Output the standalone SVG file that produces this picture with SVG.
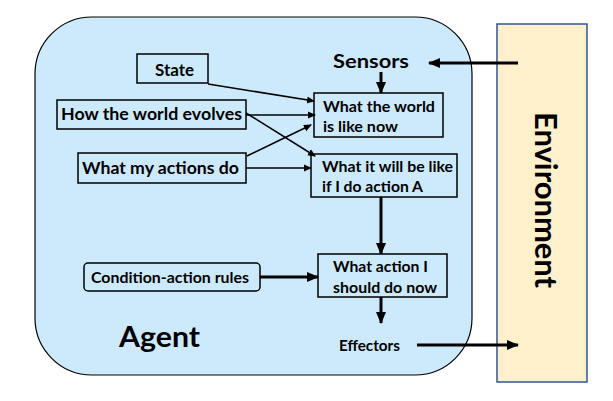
<svg xmlns="http://www.w3.org/2000/svg" width="613" height="401" viewBox="0 0 613 401">
<defs>
<style>
text{font-family:Lato,"Liberation Sans",sans-serif;font-weight:bold;fill:#000}
.box{fill:none;stroke:#000;stroke-width:1.5}
.thin{stroke:#000;stroke-width:1.5;fill:none}
.thick{stroke:#000;stroke-width:3;fill:none}
</style>
<marker id="ah" markerWidth="8" markerHeight="8" refX="7" refY="4" orient="auto" markerUnits="userSpaceOnUse">
<path d="M0,0.5 L8,4 L0,7.5 Z" fill="#000"/>
</marker>
<marker id="ahb" markerWidth="12" markerHeight="12" refX="11" refY="6" orient="auto" markerUnits="userSpaceOnUse">
<path d="M0,1 L12,6 L0,11 Z" fill="#000"/>
</marker>
</defs>
<rect width="613" height="401" fill="#fff"/>
<g id="agent">
<rect x="35" y="17" width="437" height="358" rx="57" ry="57" fill="#cdeafd" stroke="#000" stroke-width="1.2"/>
<text x="119" y="347" font-size="28" textLength="81" lengthAdjust="spacingAndGlyphs">Agent</text>
</g>
<g id="environment">
<rect x="497" y="24" width="90" height="358" fill="#fff0cc" stroke="#2f5597" stroke-width="1.5"/>
<text transform="translate(535,200) rotate(90)" text-anchor="middle" font-size="31" textLength="176" lengthAdjust="spacingAndGlyphs">Environment</text>
</g>
<g id="state">
<rect class="box" x="137" y="54" width="71" height="29"/>
<text x="155" y="76" font-size="17" textLength="39" lengthAdjust="spacingAndGlyphs">State</text>
</g>
<g id="how-world-evolves">
<rect class="box" x="57" y="100" width="189" height="29"/>
<text x="61" y="120" font-size="17.5" textLength="181" lengthAdjust="spacingAndGlyphs">How the world evolves</text>
</g>
<g id="what-my-actions-do">
<rect class="box" x="78" y="153" width="168" height="30"/>
<text x="82" y="174" font-size="17.5" textLength="157" lengthAdjust="spacingAndGlyphs">What my actions do</text>
</g>
<g id="world-now">
<rect class="box" x="314" y="93" width="129" height="44"/>
<text x="323" y="112" font-size="16" textLength="112" lengthAdjust="spacingAndGlyphs">What the world</text>
<text x="323" y="132" font-size="16" textLength="75" lengthAdjust="spacingAndGlyphs">is like now</text>
</g>
<g id="will-be-like">
<rect class="box" x="311" y="154" width="146" height="43"/>
<text x="322" y="172" font-size="16" textLength="131" lengthAdjust="spacingAndGlyphs">What it will be like</text>
<text x="322" y="192" font-size="16" textLength="101" lengthAdjust="spacingAndGlyphs">if I do action A</text>
</g>
<g id="action-now">
<rect class="box" x="318" y="254" width="129" height="43"/>
<text x="333" y="272" font-size="16" textLength="95" lengthAdjust="spacingAndGlyphs">What action I</text>
<text x="333" y="293" font-size="16" textLength="104" lengthAdjust="spacingAndGlyphs">should do now</text>
</g>
<g id="condition-action-rules">
<rect class="box" x="84" y="263" width="176" height="28" rx="4" ry="4"/>
<text x="91" y="283" font-size="15" textLength="158" lengthAdjust="spacingAndGlyphs">Condition-action rules</text>
</g>
<g id="sensors">
<text x="333" y="68" font-size="19" textLength="76" lengthAdjust="spacingAndGlyphs">Sensors</text>
</g>
<g id="effectors">
<text x="339" y="351" font-size="16" textLength="61" lengthAdjust="spacingAndGlyphs">Effectors</text>
</g>
<g id="connectors">
<line class="thick" x1="518" y1="63" x2="429" y2="63" marker-end="url(#ahb)"/>
<line class="thick" x1="381" y1="72" x2="381" y2="93" marker-end="url(#ahb)"/>
<line class="thin" x1="208" y1="84" x2="314" y2="101" marker-end="url(#ah)"/>
<line class="thin" x1="246" y1="115" x2="315" y2="115" marker-end="url(#ah)"/>
<line class="thin" x1="246" y1="113" x2="315" y2="156" marker-end="url(#ah)"/>
<line class="thin" x1="247" y1="156" x2="311" y2="125" marker-end="url(#ah)"/>
<line class="thin" x1="246" y1="168" x2="311" y2="168" marker-end="url(#ah)"/>
<line class="thick" x1="381" y1="197" x2="381" y2="254" marker-end="url(#ahb)"/>
<line class="thick" x1="260" y1="277" x2="318" y2="277" marker-end="url(#ahb)"/>
<line class="thick" x1="381" y1="297" x2="381" y2="323" marker-end="url(#ahb)"/>
<line class="thick" x1="417" y1="345" x2="518" y2="345" marker-end="url(#ahb)"/>
</g>
</svg>
